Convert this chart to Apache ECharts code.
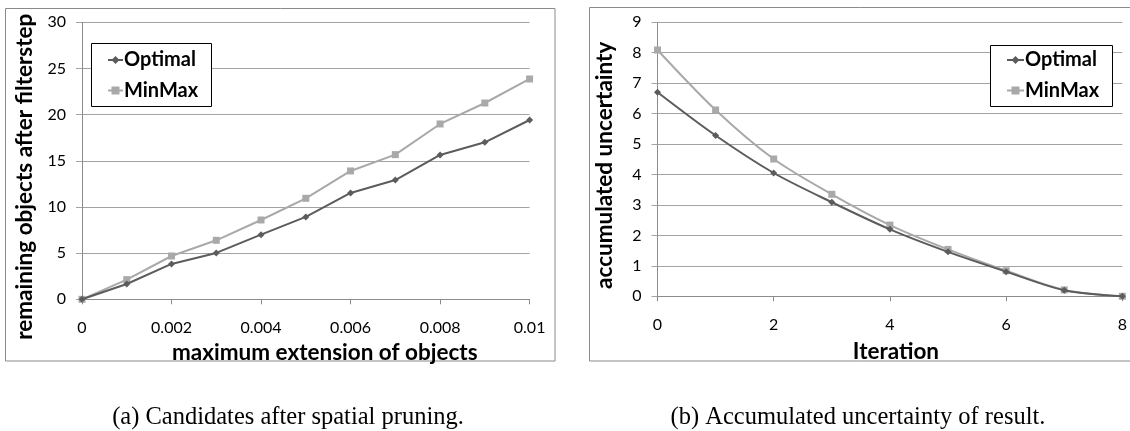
<!DOCTYPE html>
<html>
<head>
<meta charset="utf-8">
<script src="https://cdn.jsdelivr.net/npm/echarts@6/dist/echarts.min.js"></script>
<style>
html,body{margin:0;padding:0;background:#fff;}
#c{width:1130px;height:431px;}
</style>
</head>
<body>
<div id="c"></div>
<script>
// ---- data ----
var extensions = [0, 0.001, 0.002, 0.003, 0.004, 0.005, 0.006, 0.007, 0.008, 0.009, 0.01];
var optimalRemaining = [0, 1.66, 3.83, 5.02, 7.0, 8.92, 11.52, 12.92, 15.63, 17.0, 19.42];
var minmaxRemaining  = [0, 2.13, 4.69, 6.39, 8.59, 10.94, 13.9, 15.67, 18.99, 21.26, 23.86];

var iterations = [0, 1, 2, 3, 4, 5, 6, 7, 8];
var optimalUncertainty = [6.70, 5.28, 4.05, 3.09, 2.20, 1.46, 0.81, 0.20, 0];
var minmaxUncertainty  = [8.09, 6.12, 4.51, 3.35, 2.34, 1.54, 0.84, 0.21, 0];

var seriesNames = ['Optimal', 'MinMax'];
var captionA = '(a) Candidates after spatial pruning.';
var captionB = '(b) Accumulated uncertainty of result.';
var xNameA = 'maximum extension of objects';
var yNameA = 'remaining objects after filterstep';
var xNameB = 'Iteration';
var yNameB = 'accumulated uncertainty';

function pairs(xs, ys) { return xs.map(function (x, i) { return [x, ys[i]]; }); }

var FONT = 'Lato';
var darkCol = '#5c5c5c';
var lightCol = '#a9a9a9';
var gridCol = '#a3a3a3';
var axisCol = '#8c8c8c';

function xAxis(idx, min, max, interval, name, gap, pad) {
  return {
    type: 'value', gridIndex: idx, min: min, max: max, interval: interval,
    name: name, nameLocation: 'middle', nameGap: gap,
    nameTextStyle: { fontFamily: FONT, fontWeight: 'bold', fontSize: 22.5, color: '#000', padding: pad },
    axisLine: { show: true, onZero: false, lineStyle: { color: axisCol, width: 1 } },
    axisTick: { show: true, inside: false, length: 5, lineStyle: { color: axisCol } },
    splitLine: { show: false },
    axisLabel: { fontFamily: FONT, fontSize: 16, color: '#000', margin: 21,
      formatter: function (v) { return String(+v.toFixed(4)); } }
  };
}
function yAxis(idx, max, interval, name, gap, pad) {
  return {
    type: 'value', gridIndex: idx, min: 0, max: max, interval: interval,
    name: name, nameLocation: 'middle', nameGap: gap,
    nameTextStyle: { fontFamily: FONT, fontWeight: 'bold', fontSize: 22.5, color: '#000', padding: pad },
    axisLine: { show: true, lineStyle: { color: axisCol, width: 1 } },
    axisTick: { show: true, inside: false, length: 6, lineStyle: { color: gridCol } },
    splitLine: { show: true, lineStyle: { color: gridCol, width: 1 } },
    axisLabel: { fontFamily: FONT, fontSize: 16, color: '#000', margin: 16 }
  };
}
function legend(left, top, iw) {
  return {
    data: seriesNames, orient: 'vertical', left: left, top: top, z: 20,
    padding: 0, itemGap: 8.5, itemWidth: iw, itemHeight: 10,
    textStyle: { fontFamily: FONT, fontWeight: 'bold', fontSize: 20, color: '#000', lineHeight: 22, padding: [0, 0, 0, -4] }
  };
}
function line(name, xi, data, col, symbol, size, smooth) {
  return {
    type: 'line', name: name, xAxisIndex: xi, yAxisIndex: xi, data: data,
    symbol: symbol, symbolSize: size, smooth: smooth, showAllSymbol: true,
    lineStyle: { color: col, width: 2 }, itemStyle: { color: col }, z: name === 'Optimal' ? 3 : 2
  };
}

var chart = echarts.init(document.getElementById('c'), null, { renderer: 'canvas' });
chart.setOption({
  backgroundColor: '#fff',
  animation: false,
  grid: [
    { left: 82, right: 600.4, top: 22.3, bottom: 131.7 },
    { left: 657.5, right: 7, top: 22.3, bottom: 134.7 }
  ],
  xAxis: [
    xAxis(0, 0, 0.01, 0.002, xNameA, 39, [0, 0, 0, 38]),
    xAxis(1, 0, 8, 2, xNameB, 44, [0, 0, 0, 12])
  ],
  yAxis: [
    yAxis(0, 30, 5, yNameA, 46, [0, 32, 0, 0]),
    yAxis(1, 9, 1, yNameB, 41, [0, 12, 0, 0])
  ],
  legend: [legend(107, 49, 15), legend(1006, 49, 17)],
  series: [
    line(seriesNames[0], 0, pairs(extensions, optimalRemaining), darkCol, 'diamond', 7, false),
    line(seriesNames[1], 0, pairs(extensions, minmaxRemaining), lightCol, 'rect', 7, false),
    line(seriesNames[0], 1, pairs(iterations, optimalUncertainty), darkCol, 'diamond', 7, 0.3),
    line(seriesNames[1], 1, pairs(iterations, minmaxUncertainty), lightCol, 'rect', 7, 0.3)
  ],
  graphic: [
    { type: 'rect', silent: true, z: -10, shape: { x: 5.5, y: 8.5, width: 549.5, height: 352.5 },
      style: { fill: null, stroke: '#8a8a8a', lineWidth: 1 } },
    { type: 'rect', silent: true, z: -10, shape: { x: 589.5, y: 7.5, width: 560, height: 353.5 },
      style: { fill: null, stroke: '#8a8a8a', lineWidth: 1 } },
    { type: 'rect', silent: true, z: 10, shape: { x: 91.5, y: 43.5, width: 120, height: 63 },
      style: { fill: '#fff', stroke: '#000', lineWidth: 1 } },
    { type: 'rect', silent: true, z: 10, shape: { x: 990.5, y: 45.5, width: 122, height: 61 },
      style: { fill: '#fff', stroke: '#000', lineWidth: 1 } },
    { type: 'text', x: 288, y: 417.5, silent: true,
      style: { text: captionA, x: 0, y: 0, align: 'center', verticalAlign: 'middle',
        fontFamily: 'Liberation Serif', fontSize: 24.5, fill: '#000' } },
    { type: 'text', x: 858, y: 417.5, silent: true,
      style: { text: captionB, x: 0, y: 0, align: 'center', verticalAlign: 'middle',
        fontFamily: 'Liberation Serif', fontSize: 24.5, fill: '#000' } }
  ]
});
</script>
</body>
</html>
